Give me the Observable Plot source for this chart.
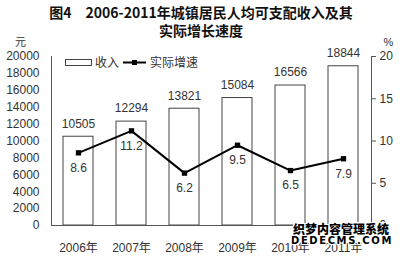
<!DOCTYPE html>
<html>
<head>
<meta charset="utf-8">
<script src="https://cdn.jsdelivr.net/npm/d3@7"></script>
<script src="https://cdn.jsdelivr.net/npm/@observablehq/plot@0.6"></script>
<style>
  html, body { margin: 0; padding: 0; background: #fff; }
  #wrap { position: relative; width: 402px; height: 257px; overflow: hidden; font-family: "Liberation Sans", Arial, "Noto Sans CJK SC", sans-serif; }
  #title { position: absolute; left: 0; top: 3px; width: 402px; text-align: center; font-family: "Noto Sans CJK SC", sans-serif; font-weight: bold; font-size: 14px; line-height: 18px; color: #111; }
  #wm { position: absolute; left: 291px; top: 222px; width: 100px; text-align: center; font-weight: 900; color: #000;
        text-shadow: -1px -1px 0 #fff, 1px -1px 0 #fff, -1px 1px 0 #fff, 1px 1px 0 #fff, 0 1px 0 #fff, 0 -1px 0 #fff, 1px 0 0 #fff, -1px 0 0 #fff; }
  #wm .a { font-family: "Noto Sans CJK SC", sans-serif; font-size: 12px; line-height: 13px; letter-spacing: 0; white-space: nowrap; }
  #wm .b { font-family: "DejaVu Sans", sans-serif; font-size: 10px; line-height: 12px; letter-spacing: 1.6px; white-space: nowrap; }
  svg { position: absolute; left: 0; top: 0; }
</style>
</head>
<body>
<div id="wrap">
  <div id="title">图4　2006-2011年城镇居民人均可支配收入及其<br>实际增长速度</div>
</div>
<script>
const years = ["2006年", "2007年", "2008年", "2009年", "2010年", "2011年"];
const income = [10505, 12294, 13821, 15084, 16566, 18844];
const growth = [8.6, 11.2, 6.2, 9.5, 6.5, 7.9];
const leftTicks = [0, 2000, 4000, 6000, 8000, 10000, 12000, 14000, 16000, 18000, 20000];
const rightTicks = [0, 5, 10, 15, 20];
const legendLabels = ["收入", "实际增速"];
const unitLeft = "元";
const unitRight = "%";
const watermark = ["织梦内容管理系统", "DEDECMS.COM"];

const SCALE = 1000; // right axis (%) mapped onto left axis (元)
const data = years.map((y, i) => ({year: y, income: income[i], growth: growth[i], g: growth[i] * SCALE}));

const ink = "#333";
const chart = Plot.plot({
  width: 402,
  height: 257,
  marginTop: 56,
  marginBottom: 32,
  marginLeft: 51,
  marginRight: 31,
  style: {fontFamily: "'Liberation Sans', Arial, 'Noto Sans CJK SC', sans-serif", fontSize: "12px", color: ink, background: "transparent"},
  x: {domain: years, paddingInner: 0.43, paddingOuter: 0.215, label: null},
  y: {domain: [0, 20000], label: null},
  marks: [
    Plot.axisY({ticks: leftTicks, tickSize: 0, tickPadding: 12, tickFormat: d => String(d), fontSize: 12, label: null}),
    Plot.axisY({ticks: rightTicks.map(d => d * SCALE), anchor: "right", tickSize: 4, tickPadding: 4, tickFormat: d => String(d / SCALE), fontSize: 12, label: null, stroke: "#555"}),
    Plot.axisX({tickSize: 0, tickPadding: 18, fontSize: 12, label: null}),
    Plot.barY(data, {x: "year", y: "income", fill: "white", stroke: "#444", strokeWidth: 1}),
    Plot.ruleY([0], {stroke: "#555"}),
    Plot.text(data, {x: "year", y: "income", text: d => String(d.income), dy: -13, fill: ink, fontSize: 12}),
    Plot.line(data, {x: "year", y: "g", stroke: "#000", strokeWidth: 2}),
    Plot.dot(data, {x: "year", y: "g", symbol: "square", r: 3, fill: "#000", stroke: "none"}),
    Plot.text(data, {x: "year", y: "g", text: d => String(d.growth), dy: 15, fill: ink, fontSize: 12}),
    Plot.text([unitLeft], {frameAnchor: "top-left", textAnchor: "middle", lineAnchor: "middle", dx: -31, dy: -14, fill: ink, fontSize: 11}),
    Plot.text([unitRight], {frameAnchor: "top-right", textAnchor: "middle", lineAnchor: "middle", dx: 17, dy: -14, fill: ink, fontSize: 11})
  ]
});

// axis lines (left and right)
const svg = d3.select(chart);
const x0 = 51, x1 = 402 - 31, yTop = 56, yBot = 257 - 32;
svg.append("line").attr("x1", x0 + 0.5).attr("x2", x0 + 0.5).attr("y1", yTop).attr("y2", yBot).attr("stroke", "#555");
svg.append("line").attr("x1", x1 + 0.5).attr("x2", x1 + 0.5).attr("y1", yTop).attr("y2", yBot).attr("stroke", "#555");

// legend
const lg = svg.append("g").attr("fill", ink).attr("text-anchor", "start");
lg.append("rect").attr("x", 65.5).attr("y", 59.5).attr("width", 26).attr("height", 6).attr("fill", "white").attr("stroke", "#444");
lg.append("text").attr("x", 95).attr("y", 62.5).attr("dy", "0.35em").attr("text-anchor", "start")
  .attr("style", "font-size:12px;font-family:'Noto Sans CJK SC',sans-serif").text(legendLabels[0]);
lg.append("line").attr("x1", 123).attr("x2", 146).attr("y1", 62.5).attr("y2", 62.5).attr("stroke", "#000").attr("stroke-width", 2);
lg.append("rect").attr("x", 132).attr("y", 60).attr("width", 5).attr("height", 5).attr("fill", "#000");
lg.append("text").attr("x", 150).attr("y", 62.5).attr("dy", "0.35em").attr("text-anchor", "start")
  .attr("style", "font-size:12px;font-family:'Noto Sans CJK SC',sans-serif").text(legendLabels[1]);

const wrap = document.getElementById("wrap");
wrap.insertBefore(chart, wrap.firstChild);

const wm = document.createElement("div");
wm.id = "wm";
wm.innerHTML = `<div class="a">${watermark[0]}</div><div class="b">${watermark[1]}</div>`;
wrap.appendChild(wm);
</script>
</body>
</html>
